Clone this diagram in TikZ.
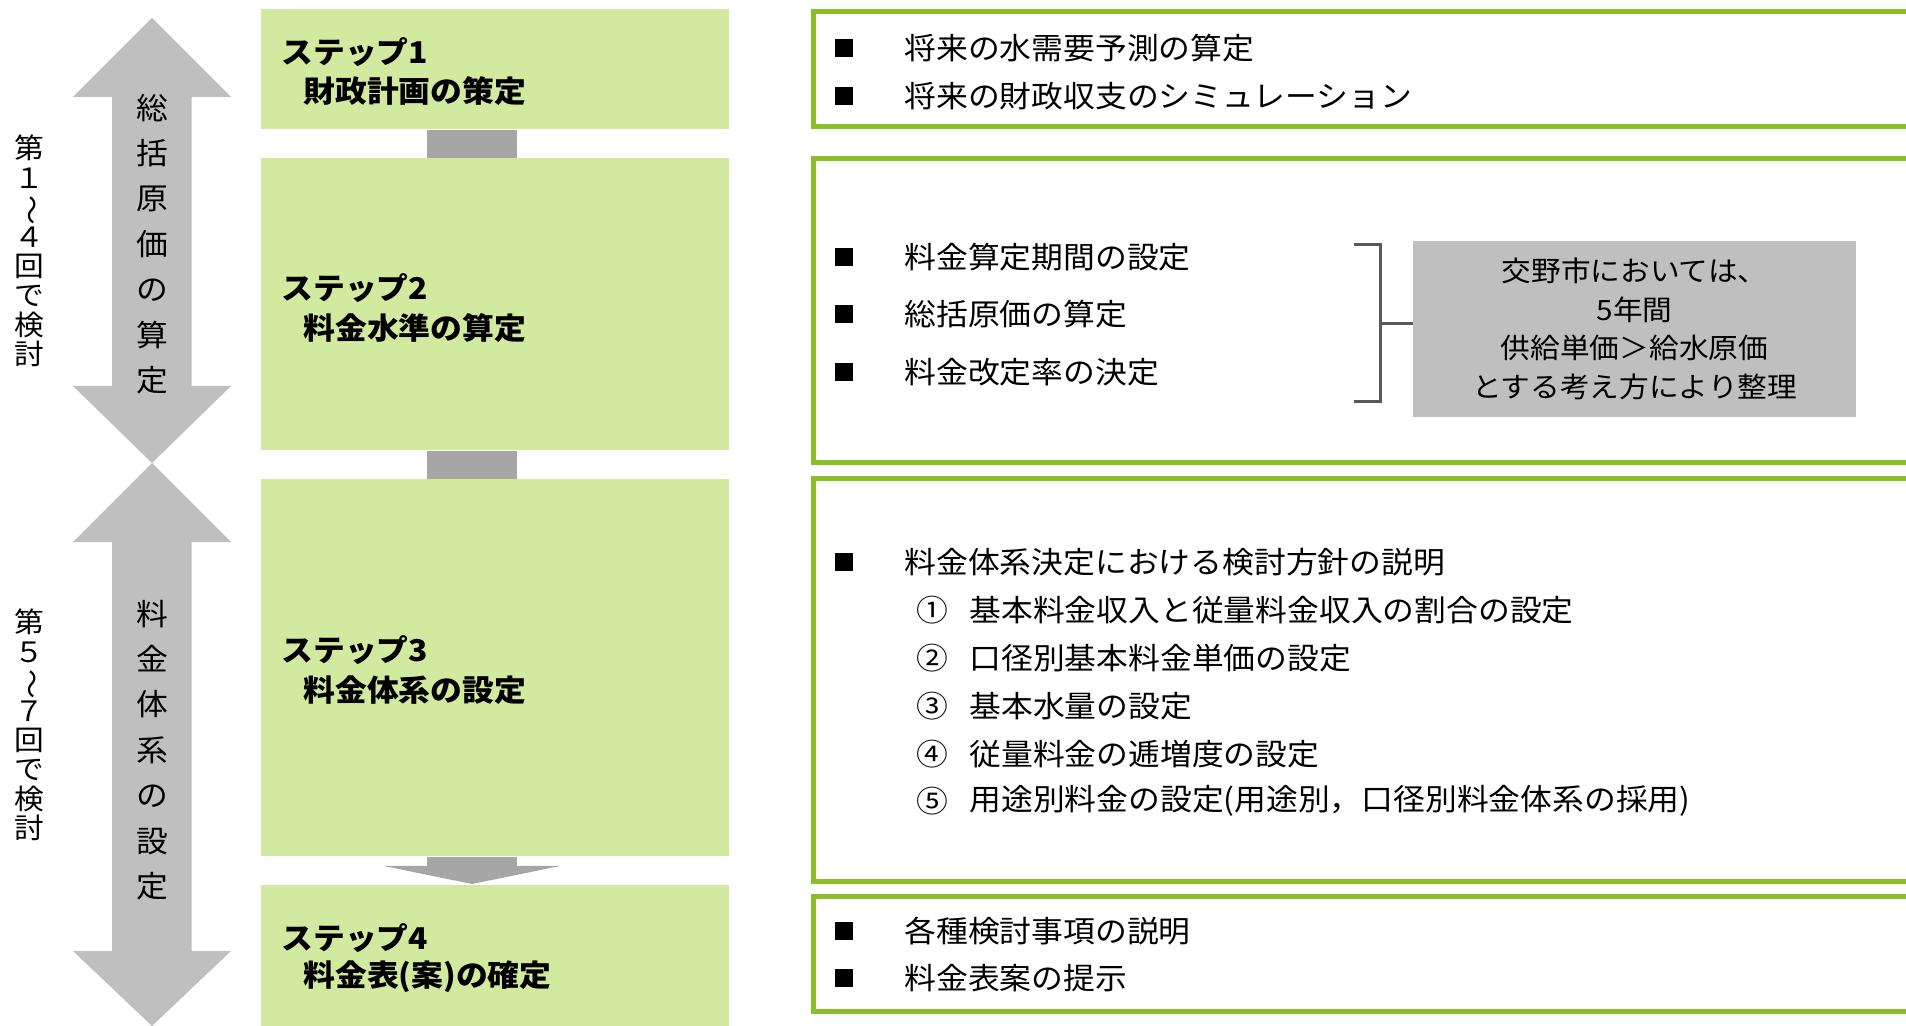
\documentclass[tikz,border=0pt]{standalone}
\usepackage{fontspec}
\usepackage{graphicx}
\usetikzlibrary{calc}
\setmainfont[FakeStretch=1.06]{Noto Sans CJK JP}
\definecolor{lgreen}{HTML}{D2E9A0}
\definecolor{ogreen}{HTML}{8CBE2A}
\definecolor{agray}{HTML}{BEBFBE}
\definecolor{cgray}{HTML}{A6A6A6}
\definecolor{bgray}{HTML}{BFBFBF}
\definecolor{brkgray}{HTML}{595959}
\begin{document}
\begin{tikzpicture}[x=0.5pt,y=-0.5pt,
  stepbox/.style={fill=lgreen, draw=none, inner sep=0, minimum width=234pt, anchor=north west},
  steptxt/.style={anchor=west, inner sep=0, font=\fontsize{15}{18}\selectfont\bfseries},
  outl/.style={draw=ogreen, line width=2.5pt},
  bul/.style={fill=black, inner sep=0, minimum size=9pt},
  rtxt/.style={anchor=west, inner sep=0, font=\fontsize{15}{18}\selectfont},
  vtxt/.style={align=center, inner sep=0, font=\fontsize{14}{14.7}\selectfont},
  atxt/.style={align=center, inner sep=0, font=\fontsize{15}{22.7}\selectfont},
  bigarrow/.style={fill=agray, draw=none},
  conn/.style={fill=cgray, draw=none}]
\useasboundingbox (0,0) rectangle (1906,1026);
\fill[white] (0,0) rectangle (1906,1026);
\clip (0,0) rectangle (1906,1026);

% big double arrows
\fill[bigarrow] (152,18) -- (231,97) -- (191.5,97) -- (191.5,386) -- (231,386) -- (152,463)
  -- (73,386) -- (112,386) -- (112,97) -- (73,97) -- cycle;
\fill[bigarrow] (152,463) -- (231,542) -- (191.5,542) -- (191.5,951) -- (231,951) -- (152,1026)
  -- (73,951) -- (112,951) -- (112,542) -- (73,542) -- cycle;
\node[atxt] (a1) at (152,244) {総\\括\\原\\価\\の\\算\\定};
\node[atxt] (a2) at (152,750) {料\\金\\体\\系\\の\\設\\定};

% left labels
\node[vtxt] (l1) at (29,251) {第\\１\\\rotatebox[origin=c]{-90}{～}\\４\\回\\で\\検\\討};
\node[vtxt] (l2) at (29,725) {第\\５\\\rotatebox[origin=c]{-90}{～}\\７\\回\\で\\検\\討};

% step boxes
\node[stepbox, minimum height=60pt] (s1) at (261,9) {};
\node[stepbox, minimum height=146pt] (s2) at (261,158) {};
\node[stepbox, minimum height=188.5pt] (s3) at (261,479) {};
\node[stepbox, minimum height=72pt] (s4) at (261,885) {};

% connectors
\fill[conn] ($(s1.south west)+(166,0)$) rectangle ($(s2.north west)+(256,0)$);
\fill[conn] ($(s2.south west)+(166,0)$) rectangle ($(s3.north west)+(256,0)$);
\fill[conn] ($(s3.south west)+(166,0)$) rectangle ($(s3.south west)+(256,10)$);
\fill[conn] ($(s3.south west)+(122,9)$) -- ($(s3.south west)+(300,9)$) -- ($(s4.north west)+(211,-1)$) -- cycle;

% step texts
\node[steptxt] (t1a) at (281,52) {ステップ1};
\node[steptxt] (t1b) at (303,91) {財政計画の策定};
\node[steptxt] (t2a) at (281,288) {ステップ2};
\node[steptxt] (t2b) at (303,328) {料金水準の算定};
\node[steptxt] (t3a) at (281,650) {ステップ3};
\node[steptxt] (t3b) at (303,690) {料金体系の設定};
\node[steptxt] (t4a) at (281,938) {ステップ4};
\node[steptxt] (t4b) at (303,977) {料金表(案)の確定};

% right outline boxes (open to the right edge)
\draw[outl] (1930,12) -- (813,12) -- (813,127) -- (1930,127);
\draw[outl] (1930,159) -- (813,159) -- (813,463) -- (1930,463);
\draw[outl] (1930,479) -- (813,479) -- (813,881) -- (1930,881);
\draw[outl] (1930,896) -- (813,896) -- (813,1011) -- (1930,1011);

% box 1
\node[bul] (b11) at (844,48) {};
\node[rtxt] (r11) at (904,48) {将来の水需要予測の算定};
\node[bul] (b12) at (844,96) {};
\node[rtxt] (r12) at (904,96) {将来の財政収支のシミュレーション};

% box 2
\node[bul] (b21) at (844,257) {};
\node[rtxt] (r21) at (904,257) {料金算定期間の設定};
\node[bul] (b22) at (844,314) {};
\node[rtxt] (r22) at (904,314) {総括原価の算定};
\node[bul] (b23) at (844,372) {};
\node[rtxt] (r23) at (904,372) {料金改定率の決定};
\draw[brkgray, line width=1.5pt] (1354,245) -- (1380,245) -- (1380,402) -- (1354,402);
\node[fill=bgray, inner sep=0, minimum width=221.5pt, minimum height=88pt, align=center,
  font=\fontsize{14}{19.3}\selectfont] (g) at (1634.5,329)
  {交野市においては、\\5年間\\供給単価＞給水原価\\とする考え方により整理};
\coordinate (bk) at (1380,324);
\draw[brkgray, line width=1.5pt] (bk) -- (bk -| g.west);

% box 3
\node[bul] (b31) at (844,562) {};
\node[rtxt] (r31) at (904,562) {料金体系決定における検討方針の説明};
\node[rtxt] (c1) at (916,610) {①};
\node[rtxt] (r32) at (969,610) {基本料金収入と従量料金収入の割合の設定};
\node[rtxt] (c2) at (916,658) {②};
\node[rtxt] (r33) at (969,658) {口径別基本料金単価の設定};
\node[rtxt] (c3) at (916,706) {③};
\node[rtxt] (r34) at (969,706) {基本水量の設定};
\node[rtxt] (c4) at (916,754) {④};
\node[rtxt] (r35) at (969,754) {従量料金の逓増度の設定};
\node[rtxt] (c5) at (916,801) {⑤};
\node[rtxt] (r36) at (969,801) {用途別料金の設定(用途別，口径別料金体系の採用)};

% box 4
\node[bul] (b41) at (844,931) {};
\node[rtxt] (r41) at (904,931) {各種検討事項の説明};
\node[bul] (b42) at (844,978) {};
\node[rtxt] (r42) at (904,978) {料金表案の提示};
\end{tikzpicture}
\end{document}
